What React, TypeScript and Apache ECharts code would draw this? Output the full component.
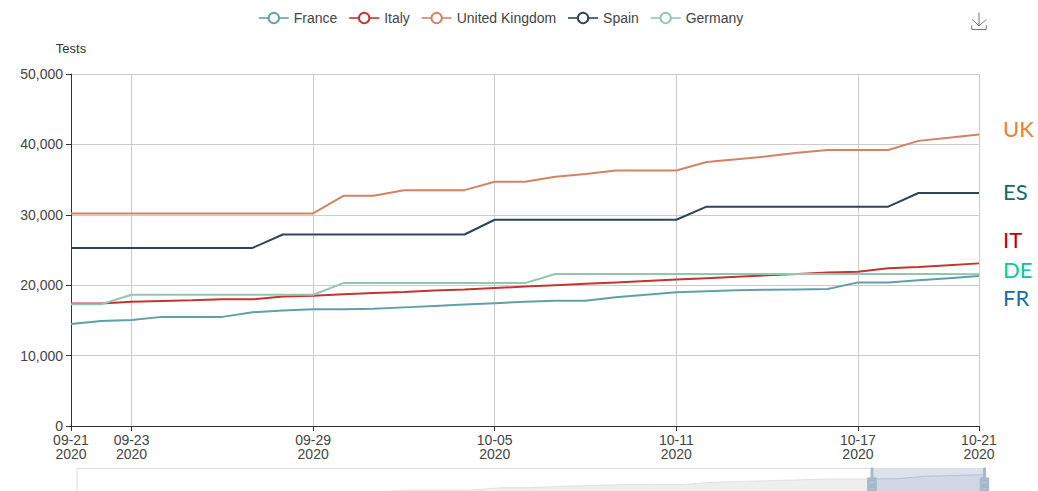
import React, { useEffect, useRef } from "react";
import * as echarts from "echarts";

const dates: string[] = [
  "09-21", "09-22", "09-23", "09-24", "09-25", "09-26", "09-27", "09-28", "09-29", "09-30",
  "10-01", "10-02", "10-03", "10-04", "10-05", "10-06", "10-07", "10-08", "10-09", "10-10",
  "10-11", "10-12", "10-13", "10-14", "10-15", "10-16", "10-17", "10-18", "10-19", "10-20", "10-21",
];
const year = "2020";
const labelIndices: number[] = [0, 2, 8, 14, 20, 26, 30];

const france: number[] = [
  14500, 14900, 15050, 15500, 15500, 15500, 16150, 16400, 16600, 16600,
  16650, 16850, 17050, 17250, 17450, 17650, 17800, 17800, 18300, 18650,
  19000, 19150, 19300, 19350, 19400, 19450, 20400, 20400, 20700, 21000, 21300,
];
const italy: number[] = [
  17400, 17400, 17650, 17750, 17850, 18000, 18000, 18400, 18500, 18700,
  18900, 19050, 19250, 19400, 19600, 19800, 20000, 20200, 20400, 20600,
  20800, 21000, 21200, 21400, 21600, 21800, 21900, 22400, 22600, 22850, 23100,
];
const uk: number[] = [
  30200, 30200, 30200, 30200, 30200, 30200, 30200, 30200, 30200, 32700,
  32700, 33500, 33500, 33500, 34700, 34700, 35400, 35800, 36300, 36300,
  36300, 37500, 37900, 38300, 38800, 39200, 39200, 39200, 40500, 40950, 41400,
];
const spain: number[] = [
  25300, 25300, 25300, 25300, 25300, 25300, 25300, 27200, 27200, 27200,
  27200, 27200, 27200, 27200, 29300, 29300, 29300, 29300, 29300, 29300,
  29300, 31150, 31150, 31150, 31150, 31150, 31150, 31150, 33100, 33100, 33100,
];
const germany: number[] = [
  17300, 17300, 18650, 18650, 18650, 18650, 18650, 18650, 18650, 20300,
  20300, 20300, 20300, 20300, 20300, 20300, 21600, 21600, 21600, 21600,
  21600, 21600, 21600, 21600, 21600, 21600, 21600, 21600, 21600, 21600, 21550,
];

const seriesNames: string[] = ["France", "Italy", "United Kingdom", "Spain", "Germany"];
const seriesColors: string[] = ["#61a0a8", "#c23531", "#d48265", "#2f4554", "#91c7ae"];
const yTicks: number[] = [0, 10000, 20000, 30000, 40000, 50000];

const sideLabels: string[] = ["UK", "ES", "IT", "DE", "FR"];
const sideColors: string[] = ["#ED7D31", "#0E6B6B", "#C00000", "#00CC99", "#1F6A9E"];
const sideY: number[] = [129, 192, 240, 270, 298];

const FONT = "'Liberation Sans', Arial, sans-serif";
const FS = 14;
const HANDLE =
  "path://M8.2,13.6V3.9H6.3v9.7H3.1v14.9h3.3v9.7h1.8v-9.7h3.3V13.6H8.2z M9.7,24.4H4.8v-1.4h4.9V24.4z M9.7,19.1H4.8v-1.4h4.9V19.1z";

export default function App() {
  const ref = useRef<HTMLDivElement>(null);
  useEffect(() => {
    document.body.style.margin = "0";
    if (!ref.current) return;
    const chart = echarts.init(ref.current, undefined, { renderer: "svg" });
    const cats = dates.map((d) => d + "\n" + year);
    const showIdx = (i: number) => labelIndices.indexOf(i) >= 0;
    const all = [france, italy, uk, spain, germany];
    chart.setOption({
      animation: false,
      color: seriesColors,
      textStyle: { fontFamily: FONT },
      legend: {
        data: seriesNames,
        top: 6,
        left: 253,
        itemGap: 11,
        itemWidth: 30,
        itemHeight: 13,
        itemStyle: { borderWidth: 1.3 },
        lineStyle: { width: 1.6 },
        textStyle: { color: "#444", fontSize: FS, fontFamily: FONT },
      },
      toolbox: {
        right: 49,
        top: 10,
        padding: 0,
        itemSize: 17,
        feature: { saveAsImage: { title: "" } },
        iconStyle: { borderColor: "#777" },
      },
      grid: { left: 71, right: 59, top: 74, bottom: 65, containLabel: false },
      xAxis: [
        {
          type: "category",
          boundaryGap: false,
          data: cats,
          axisLine: { lineStyle: { color: "#333" } },
          axisTick: { interval: (i: number) => showIdx(i), lineStyle: { color: "#333" } },
          axisLabel: {
            interval: (i: number) => showIdx(i),
            color: "#444",
            fontSize: FS,
            lineHeight: 14,
            margin: 7,
            fontFamily: FONT,
          },
          splitLine: {
            show: true,
            interval: (i: number) => showIdx(i) && i !== 0,
            lineStyle: { color: "#ccc" },
          },
        },
        {
          type: "category",
          boundaryGap: false,
          data: cats,
          show: false,
        },
      ],
      yAxis: [
        {
          type: "value",
          name: "Tests",
          nameGap: 19,
          nameTextStyle: { color: "#333", fontSize: 13, fontFamily: FONT },
          min: yTicks[0],
          max: yTicks[yTicks.length - 1],
          interval: yTicks[1] - yTicks[0],
          axisLine: { show: true, lineStyle: { color: "#333" } },
          axisTick: { show: true, lineStyle: { color: "#333" } },
          axisLabel: {
            color: "#444",
            fontSize: FS,
            fontFamily: FONT,
            formatter: (v: number) => v.toLocaleString("en-US"),
          },
          splitLine: { lineStyle: { color: "#ccc" } },
        },
        { type: "value", show: false },
      ],
      dataZoom: [
        {
          type: "slider",
          xAxisIndex: 1,
          filterMode: "filter",
          start: 87.4,
          end: 100,
          left: 74,
          right: 55,
          top: 468,
          height: 35,
          showDetail: false,
          brushSelect: false,
          moveHandleSize: 0,
          handleIcon: HANDLE,
          handleSize: "100%",
          handleStyle: { color: "#a7b7cc", borderColor: "#a7b7cc" },
          borderColor: "#ddd",
          fillerColor: "rgba(167,183,204,0.4)",
          dataBackground: {
            lineStyle: { color: "#ccc", width: 0.5 },
            areaStyle: { color: "#eee", opacity: 1 },
          },
        },
      ],
      series: [
        ...seriesNames.map((n, k) => ({
          name: n,
          type: "line",
          data: all[k],
          symbol: "emptyCircle",
          symbolSize: 4,
          showSymbol: false,
          lineStyle: { width: 2 },
        })),
        {
          name: "__shadow",
          type: "line",
          xAxisIndex: 1,
          yAxisIndex: 1,
          data: uk,
          showSymbol: false,
          silent: true,
          lineStyle: { opacity: 0 },
          tooltip: { show: false },
        },
      ],
      graphic: sideLabels.map((t, k) => ({
        type: "text",
        left: 1003,
        top: sideY[k] - 12,
        style: {
          text: t,
          fill: sideColors[k],
          fontSize: 22,
          fontFamily: "Lato, 'Open Sans', sans-serif",
        },
      })),
    });
    return () => chart.dispose();
  }, []);
  return <div ref={ref} style={{ width: 1038, height: 491 }} />;
}
